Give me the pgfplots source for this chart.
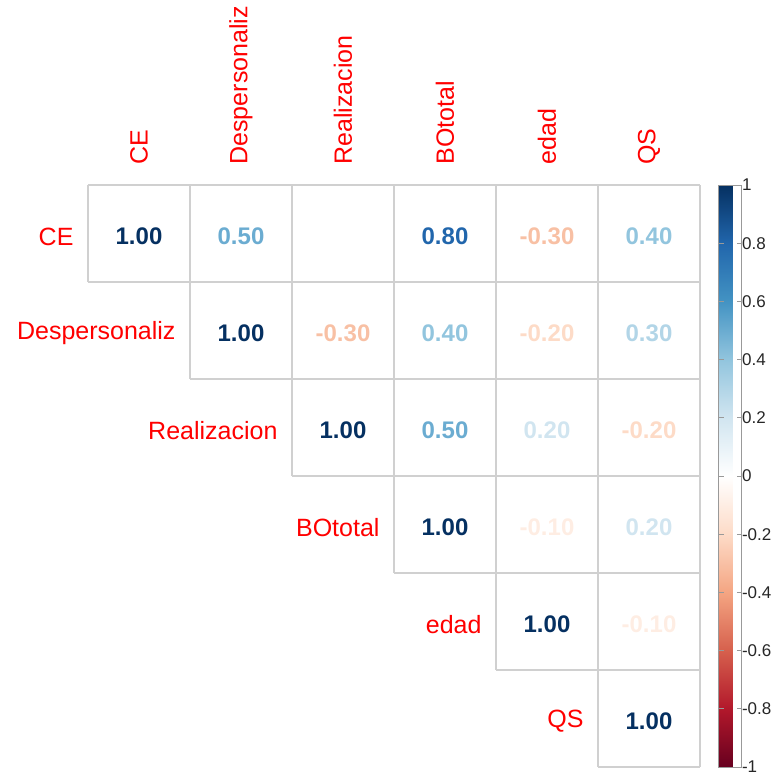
\documentclass[border=0pt]{standalone}
\usepackage{fontspec}
\setmainfont{Liberation Sans}
\usepackage{pgfplots}
\usepackage{pgfplotstable}
\pgfplotsset{compat=1.18}
\definecolor{gridgray}{RGB}{208,208,208}
\pgfplotstableread{
x y v
1 1 1.00
2 1 0.50
3 1 0.00
4 1 0.80
5 1 -0.30
6 1 0.40
2 2 1.00
3 2 -0.30
4 2 0.40
5 2 -0.20
6 2 0.30
3 3 1.00
4 3 0.50
5 3 0.20
6 3 -0.20
4 4 1.00
5 4 -0.10
6 4 0.20
5 5 1.00
6 5 -0.10
6 6 1.00
}\corrdata
\begin{document}
\begin{tikzpicture}
\useasboundingbox (0,0) rectangle (775pt,776pt);
\begin{axis}[
  at={(88pt,9pt)}, anchor=south west,
  scale only axis, width=612pt, height=582pt,
  xmin=0.5, xmax=6.5, ymin=0.5, ymax=6.5, y dir=reverse,
  axis line style={draw=none}, xtick=\empty, ytick=\empty,
  clip=false,
  colormap={rdbu}{rgb255=(103,0,31) rgb255=(178,24,43) rgb255=(214,96,77) rgb255=(244,165,130) rgb255=(253,219,199) rgb255=(255,255,255) rgb255=(209,229,240) rgb255=(146,197,222) rgb255=(67,147,195) rgb255=(33,102,172) rgb255=(5,48,97)},
  point meta min=-1, point meta max=1,
  colorbar,
  colorbar style={
    at={(parent axis.north east)}, anchor=north west, xshift=10pt,
    scale only axis, width=23pt, height=582pt,
    axis line style={draw=gray!80},
    ytick={-1,-0.8,-0.6,-0.4,-0.2,0,0.2,0.4,0.6,0.8,1},
    yticklabels={-1,-0.8,-0.6,-0.4,-0.2,0,0.2,0.4,0.6,0.8,1},
    yticklabel style={font=\fontsize{17}{19}\selectfont, text=black!85, xshift=-3pt},
    major tick length=5pt,
    tick style={draw=gray!80, line width=0.8pt},
  },
]
% grid lines
\addplot[gridgray, line width=1.4pt, unbounded coords=jump] coordinates {
  (0.5,0.5) (6.5,0.5) (nan,nan)
  (0.5,1.5) (6.5,1.5) (nan,nan)
  (1.5,2.5) (6.5,2.5) (nan,nan)
  (2.5,3.5) (6.5,3.5) (nan,nan)
  (3.5,4.5) (6.5,4.5) (nan,nan)
  (4.5,5.5) (6.5,5.5) (nan,nan)
  (5.5,6.5) (6.5,6.5) (nan,nan)
  (0.5,0.5) (0.5,1.5) (nan,nan)
  (1.5,0.5) (1.5,2.5) (nan,nan)
  (2.5,0.5) (2.5,3.5) (nan,nan)
  (3.5,0.5) (3.5,4.5) (nan,nan)
  (4.5,0.5) (4.5,5.5) (nan,nan)
  (5.5,0.5) (5.5,6.5) (nan,nan)
  (6.5,0.5) (6.5,6.5)
};
% coefficients
\addplot[only marks, mark=none,
  point meta=\thisrow{v},
  nodes near coords*={\pgfmathprintnumber[fixed,fixed zerofill,precision=2,assume math mode=true]{\pgfplotspointmeta}},
  every node near coord/.append style={color=mapped color, anchor=center,
    font=\fontsize{24}{28}\selectfont\bfseries, yshift=-3pt},
] table[x=x, y=y] {\corrdata};
% row labels
\foreach \i/\n in {1/CE,2/Despersonaliz,3/Realizacion,4/BOtotal,5/edad,6/QS}{
  \edef\tmp{\noexpand\node[anchor=east, text=red, font=\noexpand\fontsize{25}{29}\noexpand\selectfont, xshift=-11pt, yshift=-3pt] at (axis cs:\i-0.5,\i) {\n};}
  \tmp
}
% column labels
\foreach \i/\n in {1/CE,2/Despersonaliz,3/Realizacion,4/BOtotal,5/edad,6/QS}{
  \edef\tmp{\noexpand\node[anchor=west, rotate=90, text=red, font=\noexpand\fontsize{25}{29}\noexpand\selectfont, xshift=17pt] at (axis cs:\i,0.5) {\n};}
  \tmp
}
\end{axis}
\end{tikzpicture}
\end{document}
